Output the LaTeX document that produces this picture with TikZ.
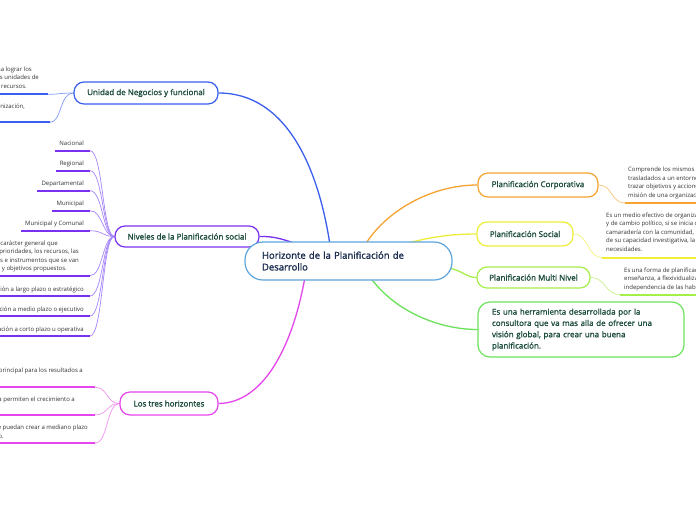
\documentclass[tikz,border=0pt]{standalone}
\usepackage{fontspec}
\setmainfont{Open Sans}
\newfontfamily\labfont[FakeBold=1.4]{Open Sans}
\definecolor{cblue}{HTML}{3A5FEE}
\definecolor{cblueL}{HTML}{7E9BFA}
\definecolor{cpurple}{HTML}{7A30F0}
\definecolor{cpurpleL}{HTML}{A585FA}
\definecolor{cmag}{HTML}{E545EC}
\definecolor{cmagL}{HTML}{F095F2}
\definecolor{corange}{HTML}{F5A432}
\definecolor{corangeL}{HTML}{F8C578}
\definecolor{cyellow}{HTML}{EEEE3A}
\definecolor{cyellowL}{HTML}{F2F27A}
\definecolor{clgreen}{HTML}{A6EE4A}
\definecolor{clgreenL}{HTML}{C6F48A}
\definecolor{cgreen}{HTML}{6AE25A}
\definecolor{cctr}{HTML}{5DA5DC}
\definecolor{labtext}{HTML}{1D4D3B}
\definecolor{ctrtext}{HTML}{1C2D4F}
\definecolor{leaftext}{HTML}{333333}
\newcommand\leafsize{\fontsize{6}{8.5}\selectfont}
\newcommand\labsize{\labfont\fontsize{8}{10}\selectfont}
\pgfdeclarelayer{bg}
\pgfsetlayers{bg,main}
\tikzset{
  topic/.style={draw, fill=white, rounded corners=10pt, line width=1.2pt, font=\labsize, text=labtext, inner sep=0pt, align=center},
  leafL/.style={font=\leafsize, text=leaftext, inner xsep=4pt, inner ysep=0pt, anchor=base east},
  leafR/.style={font=\leafsize, text=leaftext, inner sep=0pt, anchor=north west, align=left},
  ul/.style={line width=2pt},
  br/.style={line width=1.3pt},
  tw/.style={line width=0.7pt}
}
\begin{document}
\begin{tikzpicture}[x=1pt,y=-1pt]
\useasboundingbox (0,0) rectangle (696,520);

% ---------- topic nodes ----------
\node[topic, draw=cblue, minimum width=144pt, minimum height=22pt] (unidad) at (146,93) {Unidad de Negocios y funcional};
\node[topic, draw=cpurple, minimum width=144pt, minimum height=21pt] (niv) at (187,236.5) {Niveles de la Planificación social};
\node[topic, draw=cmag, minimum width=98pt, minimum height=23pt] (tres) at (169,403.5) {Los tres horizontes};
\node[draw=cctr, fill=white, rounded corners=18pt, line width=1.2pt, minimum width=207pt, minimum height=38pt, text width=173pt, align=left, font=\labfont\fontsize{9.5}{11.7}\selectfont, text=ctrtext, inner sep=0pt] (ctr) at (348.5,261) {Horizonte de la Planificación de\\Desarrollo};
\node[topic, draw=corange, minimum width=120pt, minimum height=24pt] (corp) at (538,185) {Planificación Corporativa};
\node[topic, draw=cyellow, minimum width=96pt, minimum height=24pt] (soc) at (525,234) {Planificación Social};
\node[topic, draw=clgreen, minimum width=113pt, minimum height=21pt] (multi) at (533.5,277.5) {Planificación Multi Nivel};
\node[draw=cgreen, fill=white, rounded corners=12pt, line width=1.2pt, minimum width=206pt, minimum height=55pt, text width=178pt, align=left, font=\labfont\fontsize{8}{11.3}\selectfont, text=labtext, inner sep=0pt] (big) at (581,329.5) {Es una herramienta desarrollada por la\\consultora que va mas alla de ofrecer una\\visión global, para crear una buena\\planificación.};

% ---------- leaf texts, left ----------
\node[leafL] (u1a) at (36,71) {Es la planificación que permite a la empresa lograr los};
\node[leafL] (u1b) at (43,79.5) {objetivos estratégicos de cada una de sus unidades de};
\node[leafL] (u1c) at (31,88) {negocio, optimizando el uso de los recursos.};
\node[leafL] (u2a) at (29,108.5) {Se ocupa de las áreas funcionales de la organización,};

\node[leafL] (nac) at (88,145) {Nacional};
\node[leafL] (reg) at (88,165) {Regional};
\node[leafL] (dep) at (88,185) {Departamental};
\node[leafL] (mun) at (88,205) {Municipal};
\node[leafL] (muc) at (88,225) {Municipal y Comunal};
\node[leafL] (g1) at (62,245) {Es de carácter general que};
\node[leafL] (g2) at (83,253.5) {establece las prioridades, los recursos, las};
\node[leafL] (g3) at (83,262) {las políticas globales e instrumentos que se van};
\node[leafL] (g4) at (71,270.5) {a utilizar para alcanzar las metas y objetivos propuestos.};
\node[leafL] (lar) at (88,291) {Planificación a largo plazo o estratégico};
\node[leafL] (med) at (88,311) {Planificación a medio plazo o ejecutivo};
\node[leafL] (cor) at (88,331) {Planificación a corto plazo u operativa};

\node[leafL] (h1) at (87,372.5) {Horizonte 1: Es el negocio principal para los resultados a};
\node[leafL] (h2) at (79,401) {Horizonte 2: Son las oportunidades que ya permiten el crecimiento a};
\node[leafL] (h3a) at (92,429.5) {Horizonte 3: Son las ideas que puedan crear a mediano plazo};
\node[leafL] (h3b) at (8,438) {un valor agregado para el negocio.};

% ---------- leaf texts, right ----------
\node[leafR] (ct) at (628,167) {Comprende los mismos procesos de planificación\\trasladados a un entorno empresarial, para\\trazar objetivos y acciones que cumplan con la\\misión de una organización.};
\node[leafR] (st) at (606,212.5) {Es un medio efectivo de organización comunitaria\\y de cambio político, si se inicia con una relación de\\camaradería con la comunidad, para el desarrollo\\de su capacidad investigativa, la cual identifique sus\\necesidades.};
\node[leafR] (mt) at (624,267.5) {Es una forma de planificación de la\\enseñanza, a flexividualizar la\\independencia de las habilidades.};

% ---------- underline end points ----------
\coordinate (u1E) at (48,94.3);
\coordinate (u2E) at (50,122.3);
\coordinate (nacE) at (90,150.7);
\coordinate (regE) at (90,170.7);
\coordinate (depE) at (90,190.7);
\coordinate (munE) at (90,210.7);
\coordinate (mucE) at (90,230.7);
\coordinate (gE) at (90,275.7);
\coordinate (larE) at (90,296);
\coordinate (medE) at (90,316);
\coordinate (corE) at (90,336);
\coordinate (h1E) at (95,387.3);
\coordinate (h2E) at (95,415);
\coordinate (h3E) at (95,443.3);
\coordinate (ctU) at (625,203);
\coordinate (stU) at (602,257.5);
\coordinate (mtU) at (620,294.5);
\coordinate (ctrBlue) at (330,245);
\coordinate (ctrOrange) at (365,245);
\coordinate (ctrYellow) at (400,245);
\coordinate (ctrPurple) at (300,245);
\coordinate (ctrMag) at (305,277);
\coordinate (ctrGreen) at (370,277);
\coordinate (ctrLGreen) at (448,268);

\begin{pgfonlayer}{bg}
\fill[white] (0,0) rectangle (696,520);
% main branches
\draw[br, cblue] (unidad.east) .. controls (285,93) and (318,165) .. (ctrBlue);
\draw[br, cpurple] (niv.east) .. controls (275,236) and (285,240) .. (ctrPurple);
\draw[br, cmag] (tres.east) .. controls (262,403) and (292,350) .. (ctrMag);
\draw[br, corange] (ctrOrange) .. controls (385,212) and (430,185) .. (corp.west);
\draw[br, cyellow] (ctrYellow) .. controls (430,237) and (450,234) .. (soc.west);
\draw[br, clgreen] (ctrLGreen) .. controls (462,270) and (466,277.5) .. (multi.west);
\draw[br, cgreen] (ctrGreen) .. controls (395,312) and (440,329.5) .. (big.west);

% left leaves: blue
\draw[tw, cblueL] (unidad.west) .. controls +(-14,0) and +(12,0) .. (u1E);
\draw[tw, cblueL] (unidad.west) .. controls +(-14,0) and +(12,0) .. (u2E);
\draw[ul, cblue] (-5,94.3) -- (u1E);
\draw[ul, cblue] (-5,122.3) -- (u2E);

% left leaves: purple
\foreach \e in {nacE,regE,depE,munE,mucE,gE,larE,medE,corE}
  \draw[tw, cpurpleL] (niv.west) .. controls +(-12,0) and +(13,0) .. (\e);
\draw[ul, cpurple] (nac.west |- nacE) -- (nacE);
\draw[ul, cpurple] (reg.west |- regE) -- (regE);
\draw[ul, cpurple] (dep.west |- depE) -- (depE);
\draw[ul, cpurple] (mun.west |- munE) -- (munE);
\draw[ul, cpurple] (muc.west |- mucE) -- (mucE);
\draw[ul, cpurple] (-5,275.7) -- (gE);
\draw[ul, cpurple] (-5,296) -- (larE);
\draw[ul, cpurple] (-5,316) -- (medE);
\draw[ul, cpurple] (-5,336) -- (corE);

% left leaves: magenta
\foreach \e in {h1E,h2E,h3E}
  \draw[tw, cmagL] (tres.west) .. controls +(-13,0) and +(13,0) .. (\e);
\draw[ul, cmag] (-5,387.3) -- (h1E);
\draw[ul, cmag] (-5,415) -- (h2E);
\draw[ul, cmag] (-5,443.3) -- (h3E);

% right leaves
\draw[tw, corangeL] (corp.east) .. controls +(14,0) and +(-14,0) .. (ctU);
\draw[ul, corange] (ctU) -- (705,203);
\draw[tw, cyellowL] (soc.east) .. controls +(15,0) and +(-15,0) .. (stU);
\draw[ul, cyellow] (stU) -- (705,257.5);
\draw[tw, clgreenL] (multi.east) .. controls +(15,0) and +(-15,0) .. (mtU);
\draw[ul, clgreen] (mtU) -- (705,294.5);
\end{pgfonlayer}
\end{tikzpicture}
\end{document}
